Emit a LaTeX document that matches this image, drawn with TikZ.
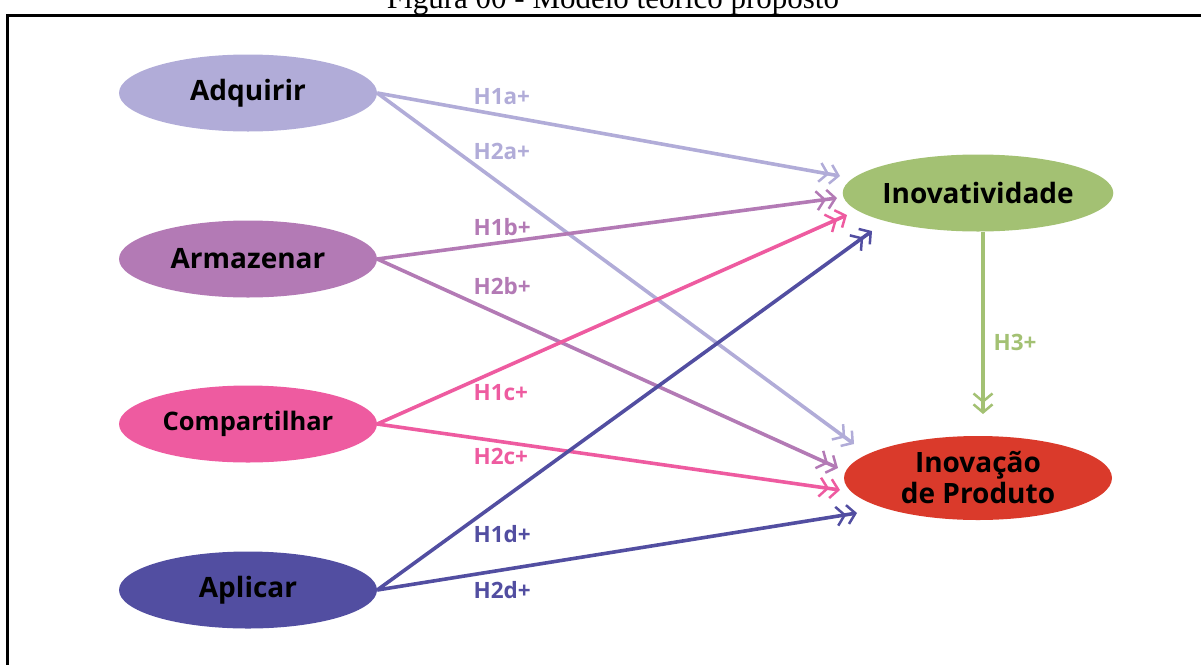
\documentclass[tikz,border=0pt]{standalone}
\usepackage{fontspec}
\setmainfont{Liberation Serif}
\newfontfamily\nodefont{Open Sans}
\usetikzlibrary{arrows.meta,shapes.geometric}
\definecolor{cadq}{HTML}{B1ACD8}
\definecolor{carm}{HTML}{B37AB5}
\definecolor{ccom}{HTML}{EE5BA0}
\definecolor{capl}{HTML}{524EA1}
\definecolor{cino}{HTML}{A3C173}
\definecolor{cprod}{HTML}{DA3A2B}
\tikzset{
  ell/.style={ellipse,minimum width=258pt,minimum height=77pt,inner sep=0pt,
    font=\nodefont\fontsize{28}{31}\selectfont\bfseries,align=center,text=black},
  conn/.style={line width=3.6pt,-{Straight Barb[length=8pt,width=19pt,line width=2.5pt] Straight Barb[length=8pt,width=19pt,line width=2.5pt]}},
  hlab/.style={font=\nodefont\fontsize{22.5}{22.5}\selectfont\bfseries,anchor=base west}
}
\begin{document}
\begin{tikzpicture}[x=1pt,y=-1pt]
\useasboundingbox (0,0) rectangle (1201,664);
\clip (0,0) rectangle (1201,664);
\node[anchor=base,font=\fontsize{31}{31}\selectfont,inner sep=0pt] (cap) at (613,8) {Figura 00 - Modelo teórico proposto};
\draw[line width=3pt] (7,670) -- (7,15) -- (1210,15);
\node[ell,fill=cadq] (adq) at (248,93) {Adquirir};
\node[ell,fill=carm] (arm) at (248,259) {Armazenar};
\node[ell,fill=ccom,inner xsep=-30pt,font=\nodefont\fontsize{25.5}{31}\selectfont\bfseries] (com) at (248,424) {Compartilhar};
\node[ell,fill=capl] (apl) at (248,590) {Aplicar};
\node[ell,fill=cino,minimum width=268pt] (ino) at (978,193) {Inovatividade};
\node[ell,fill=cprod,minimum width=268pt,minimum height=84pt] (prod) at (978,478) {Inovação\\de Produto};
\coordinate (t1a) at (840,176);
\coordinate (t2a) at (854,444);
\coordinate (t1b) at (837,198);
\coordinate (t2b) at (838,468);
\coordinate (t1c) at (847,215);
\coordinate (t2c) at (840,490);
\coordinate (t1d) at (872,231);
\coordinate (t2d) at (857,513);
\coordinate (t3) at (983,414);
\draw[conn,cadq] (adq.east) -- (t1a);
\draw[conn,cadq] (adq.east) -- (t2a);
\draw[conn,carm] (arm.east) -- (t1b);
\draw[conn,carm] (arm.east) -- (t2b);
\draw[conn,ccom] (com.east) -- (t1c);
\draw[conn,ccom] (com.east) -- (t2c);
\draw[conn,capl] (apl.east) -- (t1d);
\draw[conn,capl] (apl.east) -- (t2d);
\draw[conn,cino] (ino.south -| t3) -- (t3);
\node[hlab,text=cadq] (l1a) at (470,104) {H1a+};
\node[hlab,text=cadq] (l2a) at (470,159) {H2a+};
\node[hlab,text=carm] (l1b) at (470,235) {H1b+};
\node[hlab,text=carm] (l2b) at (470,294) {H2b+};
\node[hlab,text=ccom] (l1c) at (470,400) {H1c+};
\node[hlab,text=ccom] (l2c) at (470,464) {H2c+};
\node[hlab,text=capl] (l1d) at (470,542) {H1d+};
\node[hlab,text=capl] (l2d) at (470,598) {H2d+};
\node[hlab,text=cino] (l3) at (990,350) {H3+};
\end{tikzpicture}
\end{document}
